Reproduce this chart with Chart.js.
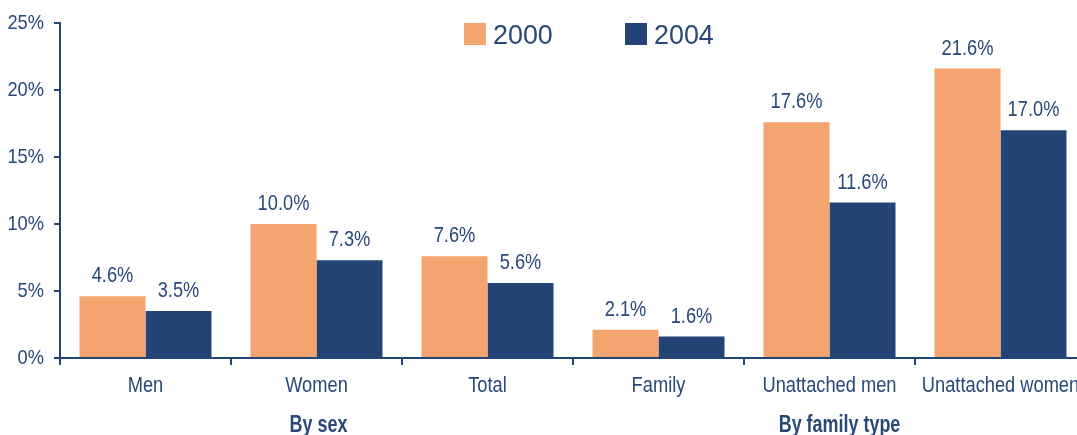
<!DOCTYPE html>
<html>
<head>
<meta charset="utf-8">
<script src="https://cdn.jsdelivr.net/npm/chart.js@4"></script>
<style>
  html, body { margin: 0; padding: 0; overflow: hidden; background: #fff; }
  #wrap { width: 1090px; height: 435px; }
</style>
</head>
<body>
<div id="wrap"><canvas id="incomeChart"></canvas></div>
<script>
  var categories = ["Men", "Women", "Total", "Family", "Unattached men", "Unattached women"];
  var years = ["2000", "2004"];
  var values2000 = [4.6, 10.0, 7.6, 2.1, 17.6, 21.6];
  var values2004 = [3.5, 7.3, 5.6, 1.6, 11.6, 17.0];
  var groupLabels = ["By sex", "By family type"];
  var groupCenters = [1, 4]; // category index under which each group title sits
  var yTicks = [0, 5, 10, 15, 20, 25];

  var NAVY = "#234475";
  var ORANGE = "#F4A46F";
  var TEXT = "#284878";
  var FONT = "'Liberation Sans', Arial, sans-serif";

  // the reference uses a narrow face, so squeeze a normal one
  function narrowText(ctx, txt, x, y, size, bold, align, base, squeeze) {
    ctx.save();
    ctx.font = (bold ? "bold " : "") + size + "px " + FONT;
    ctx.fillStyle = TEXT;
    ctx.textAlign = align;
    ctx.textBaseline = base;
    ctx.translate(x, y);
    ctx.scale(squeeze, 1);
    ctx.fillText(txt, 0, 0);
    ctx.restore();
  }

  var barLabels = {
    id: 'barLabels',
    afterDatasetsDraw: function(chart) {
      var ctx = chart.ctx;
      chart.data.datasets.forEach(function(ds, i) {
        chart.getDatasetMeta(i).data.forEach(function(bar, j) {
          narrowText(ctx, ds.data[j].toFixed(1) + "%", bar.x, bar.y - 14, 22, false, "center", "alphabetic", 0.83);
        });
      });
    }
  };

  var extras = {
    id: 'extras',
    afterDraw: function(chart) {
      var ctx = chart.ctx;
      var xs = chart.scales.x;
      var ys = chart.scales.y;
      // y tick labels
      yTicks.forEach(function(v) {
        narrowText(ctx, v + "%", 44, ys.getPixelForValue(v), 21, false, "right", "middle", 0.87);
      });
      // category labels
      categories.forEach(function(c, i) {
        narrowText(ctx, c, xs.getPixelForValue(i), 386, 22, false, "center", "middle", 0.83);
      });
      // group titles
      var shift = [2, 10];
      groupLabels.forEach(function(g, i) {
        narrowText(ctx, g, xs.getPixelForValue(groupCenters[i]) + shift[i], 432, 23, true, "center", "alphabetic", 0.78);
      });
      // legend
      var legendX = [464, 625];
      chart.data.datasets.forEach(function(ds, i) {
        ctx.fillStyle = ds.backgroundColor;
        ctx.fillRect(legendX[i], 23, 22, 22);
        narrowText(ctx, ds.label, legendX[i] + 29, 44, 28, false, "left", "alphabetic", 0.96);
      });
    }
  };

  new Chart(document.getElementById('incomeChart'), {
    type: 'bar',
    data: {
      labels: categories,
      datasets: [{
        label: years[0],
        data: values2000,
        backgroundColor: ORANGE,
        categoryPercentage: 0.772,
        barPercentage: 1.0
      }, {
        label: years[1],
        data: values2004,
        backgroundColor: NAVY,
        categoryPercentage: 0.772,
        barPercentage: 1.0
      }]
    },
    options: {
      responsive: true,
      maintainAspectRatio: false,
      animation: false,
      layout: { padding: { top: 23, right: 4, bottom: 0, left: 0 } },
      plugins: {
        legend: { display: false },
        tooltip: { enabled: false }
      },
      scales: {
        x: {
          afterFit: function(axis) { axis.height = 77; },
          grid: { drawOnChartArea: false, drawTicks: true, tickLength: 7, color: NAVY, lineWidth: 2 },
          border: { display: true, color: NAVY, width: 2 },
          ticks: { display: false, autoSkip: false }
        },
        y: {
          min: 0,
          max: 25,
          afterBuildTicks: function(axis) {
            axis.ticks = yTicks.map(function(v) { return { value: v }; });
          },
          afterFit: function(axis) { axis.width = 60; },
          grid: { drawOnChartArea: false, drawTicks: true, tickLength: 6, color: NAVY, lineWidth: 2 },
          border: { display: true, color: NAVY, width: 2 },
          ticks: { display: false }
        }
      }
    },
    plugins: [barLabels, extras]
  });
</script>
</body>
</html>
